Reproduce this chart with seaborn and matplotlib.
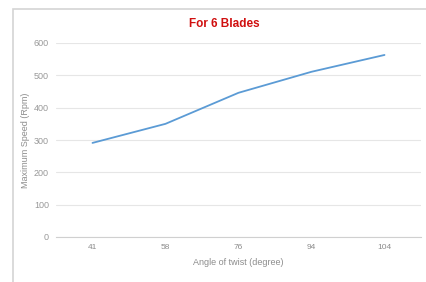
import pandas as pd
import seaborn as sns
from matplotlib import pyplot as plt
from matplotlib.patches import Rectangle

sns.set_style("white")
plt.rcParams['font.family'] = ['Liberation Sans', 'DejaVu Sans']

# values
angles = ["41", "58", "76", "94", "104"]
speeds = [291, 350, 446, 511, 563]
y_ticks = [0, 100, 200, 300, 400, 500, 600]

df = pd.DataFrame({"Angle": angles, "Speed": speeds})

fig = plt.figure(figsize=(4.26, 2.82), dpi=100)
ax = fig.add_axes([56/426, 1-237/282, (421-56)/426, (237-43)/282])

# outer chart frame like the excel chart area
fig.patches.append(Rectangle((13/426, -0.05), 1.2, 1-8.5/282+0.05, transform=fig.transFigure,
                             fill=False, edgecolor="#d4d4d4", linewidth=1.2))

sns.lineplot(data=df, x="Angle", y="Speed", sort=False, color="#5b9bd5", linewidth=1.3, ax=ax)

ax.set_xlim(-0.5, 4.5)
ax.set_ylim(0, 600)
ax.set_yticks(y_ticks)
ax.grid(axis="y", color="#e6e6e6", linewidth=0.8)
ax.set_axisbelow(True)
for s in ["top", "right", "left"]:
    ax.spines[s].set_visible(False)
ax.spines["bottom"].set_color("#d0d0d0")
ax.spines["bottom"].set_linewidth(0.8)

ax.set_xticks(range(len(angles)))
ax.set_xticklabels(angles)
ax.set_xticks([i - 0.5 for i in range(len(angles) + 1)], minor=True)
ax.tick_params(axis="x", which="major", length=0, pad=5, labelsize=6, labelcolor="#8c8c8c")
ax.tick_params(axis="x", which="minor", length=3, color="#d0d0d0", direction="out")
ax.tick_params(axis="y", length=0, pad=5, labelsize=6.5, labelcolor="#999999")

ax.set_xlabel("Angle of twist (degree)", fontsize=6.5, color="#8c8c8c", labelpad=5)
ax.set_ylabel("Maximum Speed (Rpm)", fontsize=6.5, color="#8c8c8c", labelpad=3)

fig.text(224/426, 1-24/282, "For 6 Blades", color="#d01010", fontsize=8.5,
         fontweight="bold", ha="center", va="center")

fig.savefig("out.png", dpi=100)
